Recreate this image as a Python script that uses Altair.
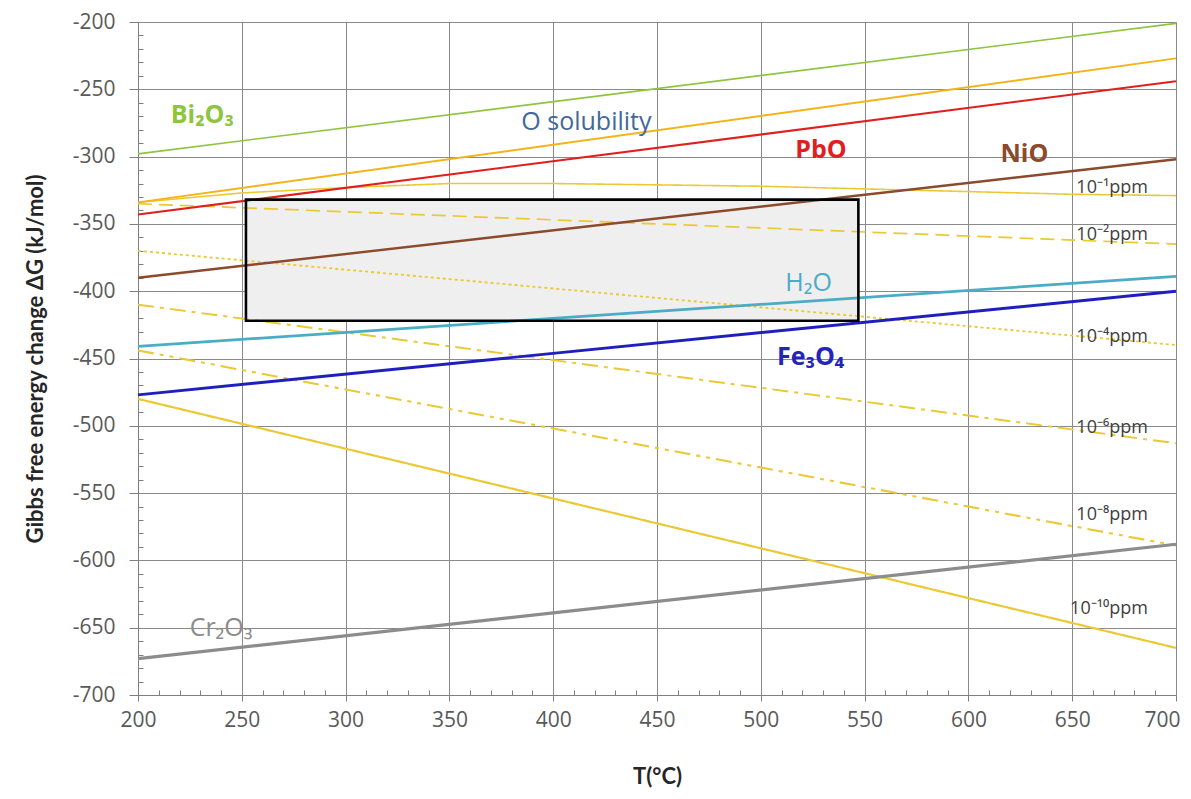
import altair as alt
import pandas as pd

# ---------------- data ----------------
T_ends = [200, 700]
bi2o3 = [-298, -201]
o_solubility = [-334, -227]
pbo = [-343, -244]
nio = [-390, -302]
h2o = [-441, -389]
fe3o4 = [-477, -400]
cr2o3 = [-673, -588]

T_ppm1 = [200, 250, 300, 350, 400, 450, 500, 550, 600, 650, 700]
ppm1 = [-334, -327, -323, -320, -320, -321, -322, -324, -326, -328, -329]
ppm2 = [-335, -365]
ppm4 = [-370, -440]
ppm6 = [-410, -513]
ppm8 = [-444, -589]
ppm10 = [-480, -665]

box_T = [252, 547]
box_G = [-332, -422]

oxide_names = ["Bi2O3", "O solubility", "PbO", "NiO", "H2O", "Fe3O4", "Cr2O3"]
oxide_colors = ["#8FC43F", "#F5B31A", "#E0201F", "#8B4A2B", "#4BACC6", "#1F1FC0", "#8C8C8C"]
oxide_widths = [1.6, 3.2, 2.6, 2.6, 2.6, 2.6, 2.6]

ppm_names = ["1e-1", "1e-2", "1e-4", "1e-6", "1e-8", "1e-10"]
ppm_dash = [[1, 0], [14, 7], [3, 3], [16, 6, 4, 6], [16, 6, 4, 6, 4, 6], [1, 0]]
ppm_widths = [1.6, 2.2, 2.2, 2.4, 2.4, 1.6]
ppm_color = "#EBC934"

bold_labels = ["Bi₂O₃", "PbO", "NiO", "Fe₃O₄"]
bold_T = [231, 529, 627, 524]
bold_G = [-269, -295, -298, -449]
bold_colors = ["#8FC43F", "#E0201F", "#8B4A2B", "#2424B8"]

norm_labels = ["O solubility", "H₂O", "Cr₂O₃"]
norm_T = [416, 523, 240]
norm_G = [-274, -394, -650]
norm_colors = ["#44679A", "#4BACC6", "#8C8C8C"]

ppm_labels = ["10⁻¹ppm", "10⁻²ppm", "10⁻⁴ppm", "10⁻⁶ppm", "10⁻⁸ppm", "10⁻¹⁰ppm"]
ppm_label_T = [652, 652, 652, 652, 652, 649]
ppm_label_G = [-323, -358, -434, -502, -566, -636]

x_major = [200, 250, 300, 350, 400, 450, 500, 550, 600, 650, 700]
y_major = [-700, -650, -600, -550, -500, -450, -400, -350, -300, -250, -200]
x_minor = [v for v in range(200, 701, 10) if v % 50 != 0]
y_minor = [v for v in range(-700, -199, 10) if v % 50 != 0]

# ---------------- tables ----------------
oxide_rows = []
for name, vals in zip(oxide_names, [bi2o3, o_solubility, pbo, nio, h2o, fe3o4, cr2o3]):
    for t, g in zip(T_ends, vals):
        oxide_rows.append({"series": name, "T": t, "G": g})
oxide_df = pd.DataFrame(oxide_rows)

ppm_rows = []
for name, ts, vals in zip(ppm_names,
                          [T_ppm1, T_ends, T_ends, T_ends, T_ends, T_ends],
                          [ppm1, ppm2, ppm4, ppm6, ppm8, ppm10]):
    for t, g in zip(ts, vals):
        ppm_rows.append({"series": name, "T": t, "G": g})
ppm_df = pd.DataFrame(ppm_rows)

box_df = pd.DataFrame({"T1": [box_T[0]], "T2": [box_T[1]], "G1": [box_G[0]], "G2": [box_G[1]]})
bold_df = pd.DataFrame({"label": bold_labels, "T": bold_T, "G": bold_G})
norm_df = pd.DataFrame({"label": norm_labels, "T": norm_T, "G": norm_G})
ppm_lab_df = pd.DataFrame({"label": ppm_labels, "T": ppm_label_T, "G": ppm_label_G})

xs = alt.Scale(domain=[200, 700], nice=False, zero=False)
ys = alt.Scale(domain=[-700, -200], nice=False, zero=False)

FONT = "Open Sans"
TITLE_FONT = "Lato"

major_x_axis = alt.Axis(
    values=x_major, title="T(°C)", grid=True, gridColor="#8A8A8A", gridWidth=1,
    tickSize=6, tickColor="#7F7F7F", domainColor="#7F7F7F", labelPadding=8,
    labelFont=FONT, labelFontSize=21, labelColor="#595959", labelFlush=False,
    labelOffset={"condition": {"test": "datum.value == 700", "value": -14}, "value": 0},
    titleFont=TITLE_FONT, titleFontSize=22, titleFontWeight="bold", titleColor="#262626",
    titlePadding=36, labelExpr="'' + datum.value",
)
major_y_axis = alt.Axis(
    values=y_major, title="Gibbs free energy change ΔG (kJ/mol)", grid=True,
    gridColor="#8A8A8A", gridWidth=1, tickSize=9, tickColor="#7F7F7F",
    domainColor="#7F7F7F", labelPadding=14, labelFont=FONT, labelFontSize=21,
    labelColor="#595959", labelFlush=False, titleFont=TITLE_FONT, titleFontSize=22,
    titleFontWeight="bold", titleColor="#262626", titlePadding=25,
    labelExpr="'' + datum.value",
)
minor_x_axis = alt.Axis(values=x_minor, orient="bottom", offset=-5, tickSize=5,
                        tickColor="#7F7F7F", domain=False, labels=False, grid=False, title=None)
minor_y_axis = alt.Axis(values=y_minor, orient="left", offset=-5, tickSize=5,
                        tickColor="#7F7F7F", domain=False, labels=False, grid=False, title=None)

box_fill = alt.Chart(box_df).mark_rect(fill="#EFEFEF", stroke=None).encode(
    x=alt.X("T1:Q", scale=xs, axis=None), x2="T2:Q",
    y=alt.Y("G1:Q", scale=ys, axis=None), y2="G2:Q",
)
box_border = alt.Chart(box_df).mark_rect(fillOpacity=0, stroke="#000000", strokeWidth=2.6).encode(
    x=alt.X("T1:Q", scale=xs, axis=None), x2="T2:Q",
    y=alt.Y("G1:Q", scale=ys, axis=None), y2="G2:Q",
)

ppm_lines = alt.Chart(ppm_df).mark_line(color=ppm_color).encode(
    x=alt.X("T:Q", scale=xs, axis=major_x_axis),
    y=alt.Y("G:Q", scale=ys, axis=major_y_axis),
    detail="series:N",
    strokeDash=alt.StrokeDash("series:N", scale=alt.Scale(domain=ppm_names, range=ppm_dash), legend=None),
    strokeWidth=alt.StrokeWidth("series:N", scale=alt.Scale(domain=ppm_names, range=ppm_widths), legend=None),
    order="T:Q",
)

oxide_lines = alt.Chart(oxide_df).mark_line().encode(
    x=alt.X("T:Q", scale=xs, axis=None),
    y=alt.Y("G:Q", scale=ys, axis=None),
    color=alt.Color("series:N", scale=alt.Scale(domain=oxide_names, range=oxide_colors), legend=None),
    strokeWidth=alt.StrokeWidth("series:N", scale=alt.Scale(domain=oxide_names, range=oxide_widths), legend=None),
    order="T:Q",
)

minor = alt.Chart(oxide_df).mark_point(opacity=0).encode(
    x=alt.X("T:Q", scale=xs, axis=minor_x_axis),
    y=alt.Y("G:Q", scale=ys, axis=minor_y_axis),
)

text_bold = alt.Chart(bold_df).mark_text(font=FONT, fontSize=25, fontWeight="bold").encode(
    x=alt.X("T:Q", scale=xs, axis=None), y=alt.Y("G:Q", scale=ys, axis=None), text="label:N",
    color=alt.Color("label:N", scale=alt.Scale(domain=bold_labels, range=bold_colors), legend=None),
)
text_norm = alt.Chart(norm_df).mark_text(font=FONT, fontSize=25).encode(
    x=alt.X("T:Q", scale=xs, axis=None), y=alt.Y("G:Q", scale=ys, axis=None), text="label:N",
    color=alt.Color("label:N", scale=alt.Scale(domain=norm_labels, range=norm_colors), legend=None),
)
text_ppm = alt.Chart(ppm_lab_df).mark_text(font=FONT, fontSize=18, align="left", color="#404040").encode(
    x=alt.X("T:Q", scale=xs, axis=None), y=alt.Y("G:Q", scale=ys, axis=None), text="label:N",
)

chart = alt.layer(
    box_fill, ppm_lines, oxide_lines, box_border, minor, text_bold, text_norm, text_ppm
).resolve_axis(x="independent", y="independent").resolve_scale(color="independent", strokeWidth="independent").properties(
    width=1038, height=673,
    padding={"left": 130, "top": 14, "right": 7, "bottom": 95},
    autosize=alt.AutoSizeParams(type="none"),
    background="white",
).configure_view(stroke=None)

chart.save("out.html", embed_options={"renderer": "svg", "actions": False})
